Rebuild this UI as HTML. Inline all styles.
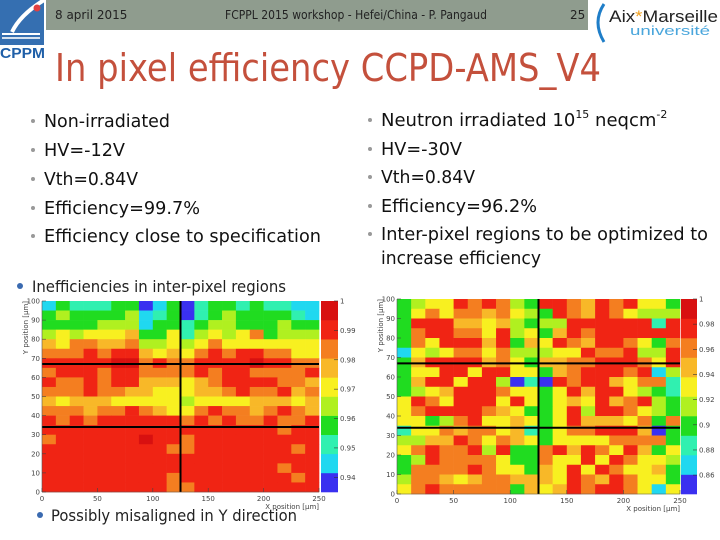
<!DOCTYPE html>
<html><head><meta charset="utf-8"><style>
html,body{margin:0;padding:0;background:#fff;}
svg{display:block;font-family:"DejaVu Sans","Liberation Sans",sans-serif;}
</style></head><body>
<svg id="slide" width="720" height="540" viewBox="0 0 720 540" xmlns="http://www.w3.org/2000/svg">
  <rect x="0" y="0" width="720" height="540" fill="#fff"/>
  <rect x="46" y="0" width="542" height="30" fill="#8f9c8e"/>
  <text x="55" y="19" font-size="12" fill="#222">8 april 2015</text>
  <text x="225" y="19" font-size="12" fill="#222" textLength="262" lengthAdjust="spacingAndGlyphs">FCPPL 2015 workshop - Hefei/China - P. Pangaud</text>
  <text x="570" y="19" font-size="12" fill="#222">25</text>
  <g>
    <rect x="0" y="0" width="44" height="45" fill="#1f5fa8" opacity="0.9"/>
    <path d="M44 0 Q20 15 12 32" stroke="#fff" stroke-width="4" fill="none"/>
    <circle cx="37" cy="8" r="3.5" fill="#e24040"/>
    <rect x="2" y="33" width="38" height="2" fill="#fff"/>
    <rect x="2" y="37" width="38" height="2" fill="#fff" opacity="0.8"/>
    <text x="0" y="58" font-size="15" font-weight="bold" fill="#1f5fa8" font-family="Liberation Sans, sans-serif" textLength="45" lengthAdjust="spacingAndGlyphs">CPPM</text>
  </g>
  <g>
    <path d="M604 4 Q592 22 604 42" stroke="#1f7ec8" stroke-width="3" fill="none"/>
    <text x="609" y="22" font-size="17" fill="#222" font-family="Liberation Sans, sans-serif" textLength="109" lengthAdjust="spacingAndGlyphs">Aix<tspan fill="#f0a020">*</tspan>Marseille</text>
    <text x="630" y="35" font-size="13" fill="#4aa6dc" font-family="Liberation Sans, sans-serif" textLength="80" lengthAdjust="spacingAndGlyphs">université</text>
  </g>
  <text x="55" y="81" font-size="38" fill="#c4503c" textLength="546" lengthAdjust="spacingAndGlyphs">In pixel efficiency CCPD-AMS_V4</text>

  <g font-size="18" fill="#111">
    <g fill="#999"><circle cx="33" cy="121" r="2"/><circle cx="33" cy="150" r="2"/><circle cx="33" cy="179" r="2"/><circle cx="33" cy="208" r="2"/><circle cx="33" cy="236" r="2"/></g>
    <text x="44" y="127" textLength="126" lengthAdjust="spacingAndGlyphs">Non-irradiated</text>
    <text x="44" y="156" textLength="81" lengthAdjust="spacingAndGlyphs">HV=-12V</text>
    <text x="44" y="185" textLength="94" lengthAdjust="spacingAndGlyphs">Vth=0.84V</text>
    <text x="44" y="214" textLength="156" lengthAdjust="spacingAndGlyphs">Efficiency=99.7%</text>
    <text x="44" y="242" textLength="277" lengthAdjust="spacingAndGlyphs">Efficiency  close to specification</text>
  </g>
  <g font-size="18" fill="#111">
    <g fill="#999"><circle cx="370" cy="120" r="2"/><circle cx="370" cy="149" r="2"/><circle cx="370" cy="177" r="2"/><circle cx="370" cy="206" r="2"/><circle cx="370" cy="234" r="2"/></g>
    <text x="381" y="126">Neutron irradiated 10<tspan font-size="11" dy="-8">15</tspan><tspan dy="8"> neqcm</tspan><tspan font-size="11" dy="-8">-2</tspan></text>
    <text x="381" y="155" textLength="81" lengthAdjust="spacingAndGlyphs">HV=-30V</text>
    <text x="381" y="183" textLength="94" lengthAdjust="spacingAndGlyphs">Vth=0.84V</text>
    <text x="381" y="212" textLength="156" lengthAdjust="spacingAndGlyphs">Efficiency=96.2%</text>
    <text x="381" y="240" textLength="327" lengthAdjust="spacingAndGlyphs">Inter-pixel regions to be optimized to</text>
    <text x="381" y="264" textLength="160" lengthAdjust="spacingAndGlyphs">increase efficiency</text>
  </g>
  <g>
    <circle cx="20" cy="286" r="3" fill="#3a6ab0"/>
    <text x="32" y="292" font-size="16" fill="#222" textLength="254" lengthAdjust="spacingAndGlyphs">Inefficiencies in inter-pixel regions</text>
  </g>
  <g>
    <circle cx="40" cy="515" r="3" fill="#3a6ab0"/>
    <text x="51" y="521" font-size="16" fill="#222" textLength="246" lengthAdjust="spacingAndGlyphs">Possibly misaligned in Y direction</text>
  </g>
  <g id="charts"></g>
</svg>
<script>
const paletteColors = ["#3a30f0","#20d8f0","#30f0b0","#20dc20","#b0f020","#f8f020","#f8b828","#f47e20","#f02414","#d81010"];
const xTickLabels = [0,50,100,150,200,250];
const yTickLabels = [0,10,20,30,40,50,60,70,80,90,100];
const leftBarTicks = [0.94,0.95,0.96,0.97,0.98,0.99,1];
const leftBarTickLabels = ["0.94","0.95","0.96","0.97","0.98","0.99","1"];
const rightBarTicks = [0.86,0.88,0.9,0.92,0.94,0.96,0.98,1];
const rightBarTickLabels = ["0.86","0.88","0.9","0.92","0.94","0.96","0.98","1"];
const gridLinesX = [125];
const gridLinesY = [34,67];
const leftLevels = [
"13222330130233232211","34333341230234333321","33334441332344333433","45455563352454573444",
"65776674454575555555","77787886565787887755","88888997877888898877","78887887777878877778",
"87787886665678888776","77787766555667877867","65666555554555566656","77767787655787767876",
"87878888887878778778","88888888888888888788","78888889887888888888","88888888877888888878",
"88888888888888888888","88888888888888888788","88888888878888888878","88888888877888888888"];
const rightLevels = [
"34558787438876878553","35757767543876875444","38886656434488888828","37887758453687888888",
"37588868365876887537","15457757444558778448","36888867536677888758","35588588553678887814",
"36885884020878865772","34568887553586885432","58758885853565867843","57888876533584887543",
"55347855653586665737","25576775623577888603","44668757653555577773","57877848337868758635",
"34877775337558587554","37777875536585875563","47765677666587687553","57877777365687887515"];

const NS = "http://www.w3.org/2000/svg";
function mk(tag, attrs, parent){const e=document.createElementNS(NS,tag);for(const k in attrs)e.setAttribute(k,attrs[k]);parent.appendChild(e);return e;}
const root = document.getElementById('charts');

function drawMap(name, levels, box, barBox, barLo, barTicks, barLabels){
  const g = mk('g',{},root);
  
  
  const nx = levels[0].length, ny = levels.length;
  const sx = v => box.x + v/250*box.w;
  const sy = v => box.y + box.h - v/100*box.h;
  const cw = 12.5, ch = 100/ny;
  levels.forEach((row, r) => {
    for (let c = 0; c < nx; c++) {
      const lv = +row[c];
      const y0 = 100 - r*ch;
      const cell = mk('rect',{x:sx(c*cw),y:sy(y0),width:sx((c+1)*cw)-sx(c*cw)+0.3,height:sy(y0-ch)-sy(y0)+0.3,fill:paletteColors[lv]},g);
      
      
    }
  });
  gridLinesX.forEach(v => { const l = mk('line',{x1:sx(v),x2:sx(v),y1:box.y,y2:box.y+box.h,stroke:'#000','stroke-width':2},g);
      });
  gridLinesY.forEach(v => { const l = mk('line',{x1:box.x,x2:box.x+box.w,y1:sy(v),y2:sy(v),stroke:'#000','stroke-width':2},g);
      });
  mk('line',{x1:box.x,x2:box.x,y1:box.y,y2:box.y+box.h,stroke:'#555','stroke-width':0.6},g);
  mk('line',{x1:box.x,x2:box.x+box.w,y1:box.y+box.h,y2:box.y+box.h,stroke:'#555','stroke-width':0.6},g);
  xTickLabels.forEach(v => {
    mk('line',{x1:sx(v),x2:sx(v),y1:box.y+box.h,y2:box.y+box.h-4,stroke:'#444','stroke-width':0.6},g);
    const t = mk('text',{x:sx(v),y:box.y+box.h+9,'font-size':7,fill:'#444','text-anchor':'middle'},g); t.textContent=v;
     
  });
  yTickLabels.forEach(v => {
    mk('line',{x1:box.x,x2:box.x+4,y1:sy(v),y2:sy(v),stroke:'#444','stroke-width':0.6},g);
    const t = mk('text',{x:box.x-2,y:sy(v)+2.5,'font-size':7,fill:'#444','text-anchor':'end'},g); t.textContent=v;
     
  });
  const xt = mk('text',{x:box.x+box.w,y:box.y+box.h+17,'font-size':7,fill:'#444','text-anchor':'end'},g); xt.textContent='X position [µm]';
   
  const yt = mk('text',{x:0,y:0,'font-size':7,fill:'#444','text-anchor':'end',transform:`translate(${box.x-14},${box.y}) rotate(-90)`},g); yt.textContent='Y position [µm]';
   
  const n = paletteColors.length, bh = barBox.h/n;
  paletteColors.forEach((col,i) => {
    const r = mk('rect',{x:barBox.x,y:barBox.y+barBox.h-(i+1)*bh,width:barBox.w,height:bh+0.3,fill:col},g);
     
  });
  const by = v => barBox.y + barBox.h - (v-barLo)/(1-barLo)*barBox.h;
  barTicks.forEach((v,i) => {
    mk('line',{x1:barBox.x+barBox.w-4,x2:barBox.x+barBox.w,y1:by(v),y2:by(v),stroke:'#333','stroke-width':0.6},g);
    const t = mk('text',{x:barBox.x+barBox.w+2,y:by(v)+2.5,'font-size':7,fill:'#444'},g); t.textContent=barLabels[i];
     
  });
}
drawMap('heatmap-non-irradiated', leftLevels, {x:42,y:301,w:277,h:191}, {x:321,y:301,w:17,h:191}, 0.935, leftBarTicks, leftBarTickLabels);
drawMap('heatmap-neutron-irradiated', rightLevels, {x:397,y:299,w:283,h:195}, {x:681,y:299,w:16,h:195}, 0.845, rightBarTicks, rightBarTickLabels);
</script>
</body></html>
